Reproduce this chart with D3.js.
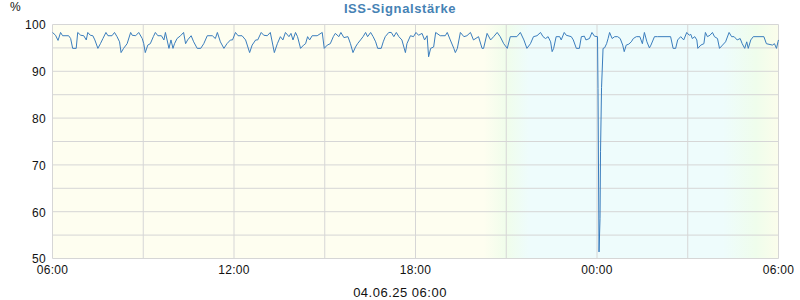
<!DOCTYPE html>
<html>
<head>
<meta charset="utf-8">
<script src="https://cdn.jsdelivr.net/npm/d3@7"></script>
<style>
  body { margin: 0; background: #fff; }
  text { font-family: "Liberation Sans", Arial, sans-serif; fill: #111; }
</style>
</head>
<body>
<svg id="svg_signal" width="800" height="300"></svg>
<script>
// ISS-Signalstärke - last 24 hours

const startTime = new Date(2025, 5, 3, 6, 0);
const endTime = new Date(2025, 5, 4, 6, 0);

// minutes after 03.06. 06:00 and signal in %
const minutesSinceStart = [
    0, 6, 11, 16, 20, 32, 36, 40, 47, 50, 56, 62, 67, 70, 75, 80, 84, 90, 95, 100,
    106, 110, 118, 123, 128, 133, 136, 141, 148, 155, 158, 165, 171, 178, 181, 184, 189, 194, 200, 204,
    209, 216, 221, 224, 231, 235, 239, 242, 247, 254, 260, 264, 268, 275, 280, 287, 294, 300, 307, 317,
    323, 327, 333, 340, 346, 353, 357, 363, 368, 376, 383, 391, 396, 403, 407, 414, 419, 426, 432, 440,
    446, 452, 457, 462, 469, 473, 477, 482, 486, 492, 498, 502, 506, 510, 515, 525, 535, 539, 545, 551,
    557, 561, 568, 572, 578, 586, 591, 596, 601, 605, 611, 616, 621, 625, 631, 636, 641, 645, 652, 656,
    660, 667, 672, 677, 682, 687, 693, 700, 703, 710, 716, 721, 726, 733, 738, 743, 746, 750, 756, 760,
    769, 779, 783, 789, 796, 799, 803, 809, 816, 822, 829, 835, 845, 852, 855, 862, 869, 875, 882, 888,
    895, 902, 908, 921, 928, 935, 941, 948, 954, 961, 968, 973, 978, 983, 988, 991, 994, 999, 1006, 1009,
    1015, 1019, 1029, 1033, 1039, 1045, 1049, 1055, 1058, 1065, 1070, 1075, 1081, 1082, 1084, 1086, 1087, 1089, 1092, 1095,
    1099, 1102, 1105, 1110, 1115, 1121, 1126, 1131, 1134, 1138, 1143, 1148, 1152, 1158, 1165, 1170, 1174, 1179, 1184, 1187,
    1194, 1200, 1226, 1231, 1236, 1240, 1246, 1252, 1258, 1263, 1266, 1269, 1274, 1278, 1280, 1286, 1292, 1295, 1299, 1304,
    1309, 1313, 1319, 1323, 1329, 1335, 1342, 1347, 1352, 1358, 1364, 1368, 1373, 1377, 1380, 1385, 1390, 1411, 1416, 1428,
    1432, 1436, 1439, 1440
];
const signalValues = [
    98.3, 97.7, 96.6, 98.3, 97.6, 97.6, 97.0, 94.9, 94.9, 98.3, 97.7, 97.6, 96.7, 98.3, 97.7, 97.6, 96.7, 94.9, 95.9, 97.0,
    98.3, 97.6, 97.6, 98.3, 97.4, 96.3, 94.0, 94.9, 95.9, 98.3, 97.7, 97.6, 98.3, 97.0, 95.9, 94.0, 95.6, 95.9, 97.4, 98.3,
    97.6, 97.6, 96.7, 98.3, 94.9, 96.7, 94.9, 95.9, 97.0, 97.6, 98.3, 95.9, 96.7, 97.6, 96.3, 94.9, 94.9, 95.9, 97.6, 97.6,
    97.0, 98.3, 96.3, 94.9, 95.9, 96.7, 96.7, 98.3, 97.6, 97.6, 96.7, 94.0, 95.6, 96.7, 96.7, 98.3, 97.7, 97.6, 98.3, 94.0,
    95.9, 97.4, 96.7, 98.3, 97.4, 98.1, 96.7, 98.3, 97.4, 94.9, 95.6, 95.9, 97.4, 96.7, 97.6, 97.6, 98.3, 94.9, 95.6, 95.9,
    97.4, 98.1, 97.4, 98.3, 97.2, 97.4, 95.9, 94.0, 95.2, 95.9, 96.7, 97.4, 98.3, 97.4, 98.3, 97.4, 96.3, 94.9, 94.9, 96.3,
    97.4, 98.3, 98.3, 97.4, 98.3, 97.4, 96.7, 94.0, 95.9, 97.6, 97.4, 98.3, 97.7, 98.1, 96.7, 97.6, 93.1, 94.9, 95.2, 98.3,
    97.6, 97.6, 98.3, 96.7, 94.9, 94.0, 94.9, 98.3, 97.4, 97.6, 98.3, 96.7, 97.4, 94.9, 94.9, 98.1, 96.7, 97.4, 98.3, 97.4,
    95.9, 94.9, 97.4, 97.4, 98.3, 96.7, 94.9, 95.9, 97.4, 97.6, 98.3, 97.4, 97.0, 97.4, 96.3, 94.2, 94.9, 97.4, 97.4, 96.7,
    98.3, 97.7, 97.4, 96.7, 94.9, 94.9, 97.4, 97.5, 96.7, 97.0, 98.3, 97.5, 97.4, 86.3, 51.4, 58.5, 72.8, 86.5, 94.9, 95.0,
    95.9, 97.0, 98.3, 97.0, 97.4, 97.4, 97.0, 95.6, 94.2, 95.6, 95.8, 96.3, 97.0, 97.4, 97.4, 95.9, 98.3, 96.3, 95.0, 95.6,
    97.4, 97.4, 97.4, 94.9, 94.9, 96.7, 97.4, 96.7, 98.3, 97.7, 97.9, 97.0, 97.4, 96.7, 94.9, 95.6, 95.9, 98.3, 97.4, 97.7,
    98.3, 97.4, 97.0, 94.9, 95.6, 96.3, 98.3, 97.4, 97.4, 96.7, 97.0, 95.9, 94.9, 96.3, 94.9, 96.7, 97.4, 97.4, 95.9, 95.6,
    95.9, 94.9, 96.3, 96.7
];

const yLabelValues = [50, 60, 70, 80, 90, 100];
const yGridValues = [50, 55, 60, 65, 70, 75, 80, 85, 90, 95, 100];
// dusk and dawn (minutes after start) for the day/night background
const twilightMinutes = [0, 855, 900, 945, 1330, 1395, 1440];

const chartTitle = "ISS-Signalstärke";
const unitLabel = "%";
const dateLabel = "04.06.25 06:00";

const svg = d3.select("#svg_signal");
const padding = { top: 24.5, right: 21.5, bottom: 41.5, left: 52.5 };
const width = +svg.attr("width");
const height = +svg.attr("height");

const data = minutesSinceStart.map((m, i) => ({
    time: d3.timeMinute.offset(startTime, m),
    value: signalValues[i]
}));

const xScale = d3.scaleTime()
    .domain([startTime, endTime])
    .range([padding.left, width - padding.right]);

const yScale = d3.scaleLinear()
    .domain([50, 100])
    .range([height - padding.bottom, padding.top]);

// background gradient day -> night -> day
const skyColors = ["#fefef0", "#fefef0", "#f0fdeb", "#eefcfc", "#eefcfc", "#effdec", "#fbfdeb"];
const grad = svg.append("defs").append("linearGradient")
    .attr("id", "sky")
    .attr("gradientUnits", "userSpaceOnUse")
    .attr("x1", xScale.range()[0]).attr("x2", xScale.range()[1])
    .attr("y1", 0).attr("y2", 0);
grad.selectAll("stop")
    .data(twilightMinutes)
    .join("stop")
    .attr("offset", d => d / 1440)
    .attr("stop-color", (d, i) => skyColors[i]);

svg.append("rect")
    .attr("x", xScale.range()[0])
    .attr("y", yScale.range()[1])
    .attr("width", xScale.range()[1] - xScale.range()[0])
    .attr("height", yScale.range()[0] - yScale.range()[1])
    .attr("fill", "url(#sky)");

// grid
svg.append("g")
    .selectAll("line")
    .data(yGridValues)
    .join("line")
    .attr("x1", xScale.range()[0]).attr("x2", xScale.range()[1])
    .attr("y1", d => yScale(d)).attr("y2", d => yScale(d))
    .attr("stroke", "#d6d6d6");

svg.append("g")
    .selectAll("line")
    .data(d3.timeHour.every(3).range(startTime, d3.timeMinute.offset(endTime, 1)))
    .join("line")
    .attr("x1", d => xScale(d)).attr("x2", d => xScale(d))
    .attr("y1", yScale.range()[1]).attr("y2", yScale.range()[0])
    .attr("stroke", "#d6d6d6");

// y labels
svg.append("g")
    .selectAll("text")
    .data(yLabelValues)
    .join("text")
    .attr("x", padding.left - 6.5)
    .attr("y", d => yScale(d))
    .attr("dy", "0.4em")
    .attr("text-anchor", "end")
    .attr("font-size", 12)
    .attr("letter-spacing", 0.3)
    .text(d => d);

// x labels every 6 hours
svg.append("g")
    .selectAll("text")
    .data(d3.timeHour.every(6).range(startTime, d3.timeMinute.offset(endTime, 1)))
    .join("text")
    .attr("x", d => xScale(d))
    .attr("y", 274)
    .attr("text-anchor", "middle")
    .attr("font-size", 12)
    .attr("letter-spacing", 0.3)
    .text(d3.timeFormat("%H:%M"));

// signal line
svg.append("path")
    .datum(data)
    .attr("fill", "none")
    .attr("stroke", "#3a7dbd")
    .attr("stroke-width", 1)
    .attr("d", d3.line().x(d => xScale(d.time)).y(d => yScale(d.value)));

svg.append("text")
    .attr("x", 400).attr("y", 12.5)
    .attr("text-anchor", "middle")
    .attr("font-size", 13)
    .attr("font-weight", "bold")
    .attr("letter-spacing", 0.6)
    .style("fill", "#4682b4")
    .text(chartTitle);

svg.append("text")
    .attr("x", 10).attr("y", 11)
    .attr("font-size", 12)
    .text(unitLabel);

svg.append("text")
    .attr("x", 400).attr("y", 297)
    .attr("text-anchor", "middle")
    .attr("font-size", 13)
    .attr("letter-spacing", 0.5)
    .text(dateLabel);
</script>
</body>
</html>
